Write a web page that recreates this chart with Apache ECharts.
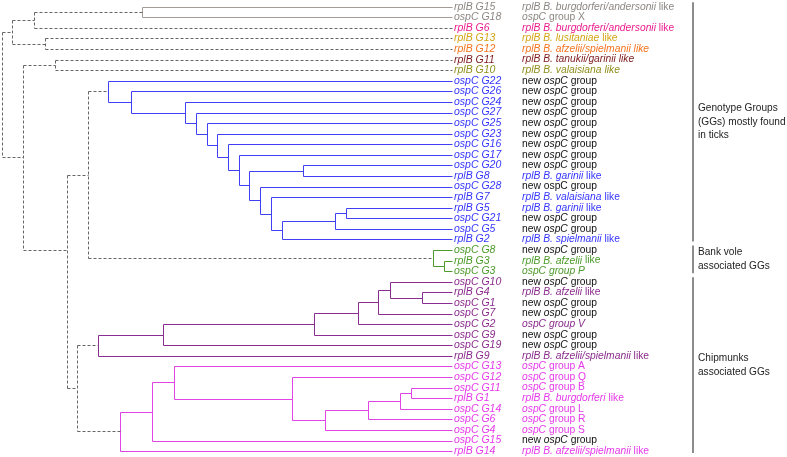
<!DOCTYPE html>
<html>
<head>
<meta charset="utf-8">
<script src="https://cdn.jsdelivr.net/npm/echarts@6/dist/echarts.min.js"></script>
<style>html,body{margin:0;padding:0;background:#fff}#c{width:787px;height:457px}</style>
</head>
<body>
<div id="c"></div>
<script>
// ---------- data ----------
const leafNames = ['rplB G15','ospC G18','rplB G6','rplB G13','rplB G12','rplB G11','rplB G10',
  'ospC G22','ospC G26','ospC G24','ospC G27','ospC G25','ospC G23','ospC G16','ospC G17','ospC G20',
  'rplB G8','ospC G28','rplB G7','rplB G5','ospC G21','ospC G5','rplB G2',
  'ospC G8','rplB G3','ospC G3',
  'ospC G10','rplB G4','ospC G1','ospC G7','ospC G2','ospC G9','ospC G19','rplB G9',
  'ospC G13','ospC G12','ospC G11','rplB G1','ospC G14','ospC G6','ospC G4','ospC G15','rplB G14'];

const leafColor = ['grey','grey','pink','gold','orange','darkred','olive',
  'blue','blue','blue','blue','blue','blue','blue','blue','blue','blue','blue','blue','blue','blue','blue','blue',
  'green','green','green',
  'purple','purple','purple','purple','purple','purple','purple','purple',
  'magenta','magenta','magenta','magenta','magenta','magenta','magenta','magenta','magenta'];

const descText = ['*rplB B. burgdorferi/andersonii* like','*ospC* group X','*rplB B. burgdorferi/andersonii* like',
  '*rplB B. lusitaniae* like','*rplB B. afzelii/spielmanii like*','*rplB B. tanukii/garinii like*','*rplB B. valaisiana like*',
  'new *ospC* group','new *ospC* group','new *ospC* group','new *ospC* group','new *ospC* group','new *ospC* group',
  'new *ospC* group','new *ospC* group','new *ospC* group',
  '*rplB B. garinii* like','new ospC group','*rplB B. valaisiana* like','*rplB B. garinii* like',
  'new *ospC* group','new *ospC* group','*rplB B. spielmanii* like',
  'new *ospC* group','*rplB B. afzelii* like','*ospC group P*',
  'new *ospC* group','*rplB B. afzelii* like','new *ospC* group','new *ospC* group','*ospC group V*',
  'new *ospC* group','new *ospC* group','*rplB B. afzelii/spielmanii* like',
  '*ospC* group A','*ospC* group Q','*ospC* group B','*rplB B. burgdorferi* like','*ospC* group L',
  '*ospC* group R','*ospC* group S','new *ospC* group','*rplB B. afzelii/spielmanii* like'];

const descColor = ['grey','grey','pink','gold','orange','darkred','olive',
  'black','black','black','black','black','black','black','black','black',
  'blue','black','blue','blue','black','black','blue',
  'black','green','green',
  'black','purple','black','black','purple','black','black','purple',
  'magenta','magenta','magenta','magenta','magenta','magenta','magenta','black','magenta'];

// tree: node depth (branch-position from root), children (leaf indices or nodes), clade style, attach row
const T = (d, kids, style, at) => ({d, kids, style, at});
const tree = T(0, [
  T(10, [
    T(32, [T(140, [0, 1], 'grey'), 2]),
    T(43, [3, 4])
  ]),
  T(21, [
    T(53, [5, 6]),
    T(65, [
      T(86, [
        T(106, [7,
          T(129, [8,
            T(183, [9,
              T(194, [10,
                T(205, [11,
                  T(215, [12,
                    T(226, [13,
                      T(237, [14,
                        T(247, [
                          T(301, [15, 16]),
                          T(258, [17,
                            T(269, [18,
                              T(280, [
                                T(333, [T(344, [19, 20]), 21]),
                                22])])])])])])])])])])])], 'blue'),
        T(431, [23, T(442, [24, 25])], 'green')
      ]),
      T(75, [
        T(96, [
          T(161, [
            T(312, [
              T(356, [
                T(376, [
                  T(388, [26, T(420, [27, 28])]),
                  29]),
                30]),
              31]),
            32]),
          33], 'purple'),
        T(118, [
          T(150, [
            T(172, [34,
              T(290, [35,
                T(323, [
                  T(366, [
                    T(398, [T(409, [36, 37]), 38]),
                    39]),
                  40])])]),
            41]),
          42], 'magenta')
      ])
    ], null, 23)
  ])
], 'bb');

const tipDepth = 450;

const groups = [
  {from: 0, to: 22, text: 'Genotype Groups\n(GGs) mostly found\nin ticks'},
  {from: 23, to: 25, text: 'Bank vole\nassociated GGs'},
  {from: 26, to: 42, text: 'Chipmunks\nassociated GGs'}
];

// ---------- styles ----------
const FONT = 'Liberation Sans, Arial, Helvetica, sans-serif';
const textColors = {grey:'#8c8783', pink:'#ec1c8e', gold:'#d4a514', orange:'#f5731f', darkred:'#7d1a1c',
  olive:'#8f8f1e', blue:'#3535ff', green:'#4c9a2a', purple:'#8a2b8c', magenta:'#e63aea', black:'#111'};
const lineStyles = {
  bb: {stroke:'#666666', lineDash:[3, 2]},
  grey: {stroke:'#a39c96'},
  blue: {stroke:'#4040f5'},
  green: {stroke:'#4f9a2c'},
  purple: {stroke:'#8a2d90'},
  magenta: {stroke:'#e044e6'}
};
const styleKeys = Object.keys(lineStyles);

// ---------- build segments ----------
const segs = [];
function walk(node, inherited) {
  if (typeof node === 'number') return {y: node, d: tipDepth};
  const s = node.style || inherited;
  const kids = node.kids.map(k => walk(k, s));
  const ys = kids.map(k => k.y);
  const y0 = Math.min(...ys), y1 = Math.max(...ys);
  const si = styleKeys.indexOf(s);
  segs.push([node.d, y0, node.d, y1, si]);
  kids.forEach(k => segs.push([node.d, k.y, k.d, k.y, si]));
  const y = node.at != null ? node.at : (y0 + y1) / 2;
  return {y, d: node.d};
}
walk(tree, 'bb');

// ---------- rich text ----------
const rich = {};
Object.keys(textColors).forEach(c => {
  rich['L_' + c] = {color: textColors[c], fontStyle: 'italic', fontSize: 10.5, fontFamily: FONT};
  rich[c + '_i'] = {color: textColors[c], fontStyle: 'italic', fontSize: 10.3, fontFamily: FONT};
  rich[c + '_n'] = {color: textColors[c], fontStyle: 'normal', fontSize: 10.3, fontFamily: FONT};
});
function descFmt(i) {
  const parts = descText[i].split('*');
  const c = descColor[i];
  let out = '';
  parts.forEach((p, j) => { if (p) out += '{' + c + (j % 2 ? '_i' : '_n') + '|' + p + '}'; });
  return out;
}

const nRows = leafNames.length - 1;
const chart = echarts.init(document.getElementById('c'), null, {renderer: 'canvas'});
const catAxis = (fmt, offset) => ({
  type: 'category', data: leafNames, inverse: true, boundaryGap: false, position: 'right',
  offset: offset, gridIndex: 0,
  axisLine: {show: false}, axisTick: {show: false}, splitLine: {show: false},
  axisLabel: {interval: 0, margin: 2, hideOverlap: false, formatter: fmt, rich: rich}
});
chart.setOption({
  animation: false,
  backgroundColor: '#fff',
  grid: {left: 2, right: 335, top: 6.7, bottom: 5.9, containLabel: false, outerBoundsMode: 'none'},
  xAxis: {type: 'value', min: 0, max: tipDepth, show: false},
  yAxis: [
    {type: 'value', min: 0, max: nRows, inverse: true, show: false},
    catAxis((v, i) => '{L_' + leafColor[i] + '|' + v + '}', 0),
    catAxis((v, i) => descFmt(i), 68)
  ],
  series: [{
    type: 'custom',
    silent: true,
    clip: false,
    xAxisIndex: 0, yAxisIndex: 0,
    data: segs,
    encode: {x: [0, 2], y: [1, 3]},
    renderItem: function (params, api) {
      const p1 = api.coord([api.value(0), api.value(1)]);
      const p2 = api.coord([api.value(2), api.value(3)]);
      const st = lineStyles[styleKeys[api.value(4)]];
      const r = v => Math.round(v) + 0.5;
      return {
        type: 'line',
        shape: {x1: r(p1[0]), y1: r(p1[1]), x2: r(p2[0]), y2: r(p2[1])},
        style: {stroke: st.stroke, lineWidth: 1, lineDash: st.lineDash || null, fill: null}
      };
    }
  }]
});

// group brackets and captions, placed via the row scale
const graphics = [];
groups.forEach(g => {
  const yTop = chart.convertToPixel({yAxisIndex: 0}, g.from) - 4.5;
  const yBot = chart.convertToPixel({yAxisIndex: 0}, g.to) + 2;
  graphics.push({type: 'line', silent: true,
    shape: {x1: 693, y1: yTop, x2: 693, y2: yBot},
    style: {stroke: '#666', lineWidth: 1.5}});
  graphics.push({type: 'text', silent: true, x: 698, y: (yTop + yBot) / 2,
    style: {text: g.text, fill: '#222', fontSize: 10.1, fontFamily: FONT, lineHeight: 13.5,
      align: 'left', verticalAlign: 'middle'}});
});
chart.setOption({graphic: graphics});
</script>
</body>
</html>
